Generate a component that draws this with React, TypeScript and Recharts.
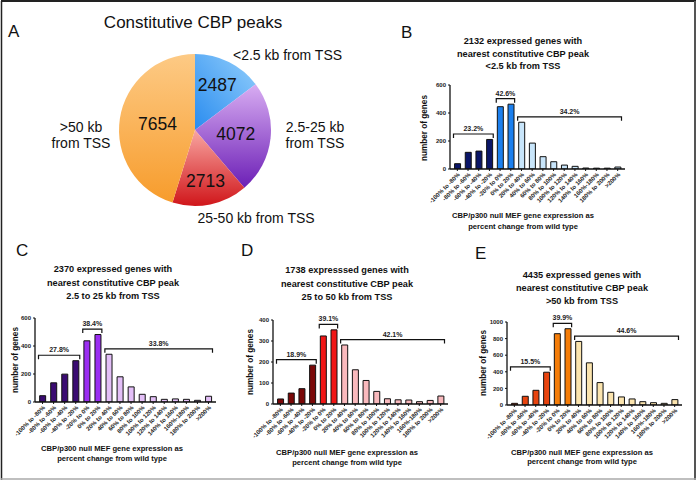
import React from 'react';
import { PieChart, Pie, Cell, BarChart, Bar, XAxis, YAxis, ReferenceArea } from 'recharts';

// ---------- data ----------
const pieNames = ['<2.5 kb from TSS', '2.5-25 kb from TSS', '25-50 kb from TSS', '>50 kb from TSS'];
const pieValues = [2487, 4072, 2713, 7654];

const bins = [
  '-100% to -80%', '-80% to -60%', '-60% to -40%', '-40% to -20%', '-20% to 0%', '0% to 20%',
  '20% to 40%', '40% to 60%', '60% to 80%', '80% to 100%', '100% to 120%', '120% to 140%',
  '140% to 160%', '160%-180%', '180% to 200%', '>200%',
];

const valuesB = [38, 119, 128, 211, 445, 463, 334, 185, 88, 52, 28, 19, 7, 6, 6, 14];
const valuesC = [45, 137, 199, 295, 437, 482, 341, 180, 108, 55, 38, 19, 22, 19, 12, 41];
const valuesD = [24, 52, 73, 185, 324, 353, 281, 163, 112, 60, 25, 20, 19, 11, 17, 38];
const valuesE = [20, 105, 177, 395, 859, 919, 766, 508, 270, 153, 97, 73, 40, 28, 20, 65];

const groupRanges = [[0, 3], [4, 5], [6, 15]];
const groupLabelsB = ['23.2%', '42.6%', '34.2%'];
const groupLabelsC = ['27.8%', '38.4%', '33.8%'];
const groupLabelsD = ['18.9%', '39.1%', '42.1%'];
const groupLabelsE = ['15.5%', '39.9%', '44.6%'];

const ticksB = [0, 200, 400, 600];
const ticksC = [0, 200, 400, 600];
const ticksD = [0, 100, 200, 300, 400];
const ticksE = [0, 200, 400, 600, 800, 1000];

const titleB = ['2132 expressed genes with', 'nearest constitutive CBP peak', '<2.5 kb from TSS'];
const titleC = ['2370 expressed genes with', 'nearest constitutive CBP peak', '2.5 to 25 kb from TSS'];
const titleD = ['1738 expresssed genes with', 'nearest constitutive CBP peak', '25 to 50 kb from TSS'];
const titleE = ['4435 expressed genes with', 'nearest constitutive CBP peak', '>50 kb from TSS'];
const xTitle = ['CBP/p300 null MEF gene expression as', 'percent change from wild type'];
const yTitle = 'number of genes';
const mainTitle = 'Constitutive CBP peaks';

// ---------- styles ----------
const FONT = '"Liberation Sans", Arial, Helvetica, sans-serif';
const pieGrad = [
  ['#93cffc', '#2a8cef'],
  ['#d8adf2', '#6c1fb6'],
  ['#f8a6a2', '#d0161a'],
  ['#fdca85', '#f79c2c'],
];
const colorsB = ['#0b1668', '#1c80ee', '#c8e5fa'];
const colorsC = ['#3a0b72', '#9b2ef2', '#e3bff7'];
const colorsD = ['#7a0808', '#f01616', '#f9b9bd'];
const colorsE = ['#e8440f', '#f57d08', '#fbe4ae'];

type HistProps = {
  values: number[];
  labels: string[];
  colors: string[];
  ticks: number[];
  plotX: number;
  plotY: number;
  plotW: number;
  plotH: number;
};

const WY = 22;
const TOP = 24;
const RIGHT = 6;
const HX = 40;

function Histogram({ values, labels, colors, ticks, plotX, plotY, plotW, plotH }: HistProps) {
  const yMax = ticks[ticks.length - 1];
  const data = bins.map((b, i) => ({ bin: b, value: values[i] }));
  const groupOf = (i: number) => groupRanges.findIndex(([a, b]) => i >= a && i <= b);
  const tickDepth = (4 / plotH) * yMax;
  const lift = yMax * 0.065;
  return (
    <div style={{ position: 'absolute', left: plotX - WY, top: plotY - TOP }}>
      <BarChart
        width={WY + plotW + RIGHT}
        height={TOP + plotH + HX}
        data={data}
        margin={{ top: TOP, right: RIGHT, left: 0, bottom: 0 }}
        barCategoryGap="24%"
      >
        <XAxis
          dataKey="bin"
          interval={0}
          height={HX}
          padding={{ left: 2, right: 2 }}
          axisLine={{ stroke: '#111', strokeWidth: 1.3 }}
          tickLine={{ stroke: '#111' }}
          tickSize={2}
          angle={-45}
          textAnchor="end"
          tick={{ fontSize: 6, fontWeight: 'bold', fill: '#222', fontFamily: FONT, dy: -1 }}
        />
        <YAxis
          width={WY}
          domain={[0, yMax]}
          ticks={ticks}
          interval={0}
          allowDataOverflow
          axisLine={{ stroke: '#111', strokeWidth: 1.3 }}
          tickLine={{ stroke: '#111' }}
          tickSize={2}
          tick={{ fontSize: 6, fontWeight: 'bold', fill: '#222', fontFamily: FONT }}
        />
        <Bar dataKey="value" stroke="#111" strokeWidth={1} isAnimationActive={false}>
          {data.map((d, i) => (
            <Cell key={d.bin} fill={colors[groupOf(i)]} />
          ))}
        </Bar>
        {groupRanges.map(([a, b], gi) => {
          const level = Math.max(...values.slice(a, b + 1)) + lift;
          const label = labels[gi];
          return (
            <ReferenceArea
              key={label}
              x1={bins[a]}
              x2={bins[b]}
              y1={level - tickDepth}
              y2={level}
              ifOverflow="visible"
              shape={(p: any) => {
                const x1 = p.x + 1.5;
                const x2 = p.x + p.width - 1.5;
                const yTop = p.y;
                const yBot = p.y + p.height;
                return (
                  <g>
                    <path
                      d={`M${x1},${yBot} L${x1},${yTop} L${x2},${yTop} L${x2},${yBot}`}
                      stroke="#111"
                      strokeWidth={1.2}
                      fill="none"
                    />
                    <text
                      x={(x1 + x2) / 2}
                      y={yTop - 3}
                      textAnchor="middle"
                      fontSize={7}
                      fontWeight="bold"
                      fill="#222"
                      fontFamily={FONT}
                    >
                      {label}
                    </text>
                  </g>
                );
              }}
            />
          );
        })}
      </BarChart>
    </div>
  );
}

const labelRadius = [0.66, 0.54, 0.68, 0.5];
const RAD = Math.PI / 180;

function PieLabel(props: any) {
  const { cx, cy, midAngle, outerRadius, index, value } = props;
  const r = outerRadius * labelRadius[index];
  const x = cx + r * Math.cos(-midAngle * RAD);
  const y = cy + r * Math.sin(-midAngle * RAD);
  return (
    <text x={x} y={y} dy={6} textAnchor="middle" fontSize={17.5} fill="#111" fontFamily={FONT}>
      {value}
    </text>
  );
}

function TitleBlock({ lines, cx, ys, size, bold }: { lines: string[]; cx: number; ys: number[]; size: number; bold?: boolean }) {
  return (
    <>
      {lines.map((l, i) => (
        <text
          key={i}
          x={cx}
          y={ys[i]}
          textAnchor="middle"
          fontSize={size}
          fontWeight={bold ? 'bold' : 'normal'}
          fill="#111"
          fontFamily={FONT}
        >
          {l}
        </text>
      ))}
    </>
  );
}

function YTitle({ x, y }: { x: number; y: number }) {
  return (
    <text
      x={x}
      y={y}
      transform={`rotate(-90 ${x} ${y})`}
      textAnchor="middle"
      dy={3}
      fontSize={8.2}
      fontWeight="bold"
      fill="#111"
      fontFamily={FONT}
    >
      {yTitle}
    </text>
  );
}

export default function App() {
  const pieData = pieNames.map((n, i) => ({ name: n, value: pieValues[i] }));
  const letter = (t: string, x: number, y: number) => (
    <text x={x} y={y} fontSize={17} fill="#111" fontFamily={FONT}>
      {t}
    </text>
  );
  return (
    <div style={{ position: 'absolute', left: 0, top: 0, width: 697, height: 481, background: '#fff', overflow: 'hidden' }}>
      <div style={{ position: 'absolute', left: 0, top: 0 }}>
        <PieChart width={400} height={240} margin={{ top: 0, right: 0, bottom: 0, left: 0 }}>
          <defs>
            {pieGrad.map((g, i) => (
              <linearGradient key={i} id={`pg${i}`} x1={i === 0 ? 1 : 0.5} y1={0} x2={i === 0 ? 0 : 0.5} y2={1}>
                <stop offset="0%" stopColor={g[0]} />
                <stop offset="100%" stopColor={g[1]} />
              </linearGradient>
            ))}
          </defs>
          <Pie
            data={pieData}
            dataKey="value"
            nameKey="name"
            cx={195}
            cy={130}
            outerRadius={76}
            startAngle={90}
            endAngle={-270}
            stroke="none"
            label={PieLabel}
            labelLine={false}
            isAnimationActive={false}
          >
            {pieData.map((d, i) => (
              <Cell key={d.name} fill={`url(#pg${i})`} />
            ))}
          </Pie>
        </PieChart>
      </div>

      <Histogram values={valuesB} labels={groupLabelsB} colors={colorsB} ticks={ticksB} plotX={450} plotY={85} plotW={175} plotH={84} />
      <Histogram values={valuesC} labels={groupLabelsC} colors={colorsC} ticks={ticksC} plotX={35} plotY={318} plotW={181} plotH={84} />
      <Histogram values={valuesD} labels={groupLabelsD} colors={colorsD} ticks={ticksD} plotX={273} plotY={320} plotW={175} plotH={84} />
      <Histogram values={valuesE} labels={groupLabelsE} colors={colorsE} ticks={ticksE} plotX={507} plotY={322} plotW={175} plotH={83} />

      <svg width={697} height={481} style={{ position: 'absolute', left: 0, top: 0, pointerEvents: 'none' }}>
        <line x1={1} y1={1} x2={696} y2={1} stroke="#222" strokeWidth={2} />
        <line x1={1.5} y1={1} x2={1.5} y2={480} stroke="#222" strokeWidth={1.5} />
        <line x1={695} y1={1} x2={695} y2={480} stroke="#555" strokeWidth={2} />
        <line x1={1} y1={479} x2={696} y2={479} stroke="#aaa" strokeWidth={1.5} />

        {letter('A', 8, 37)}
        {letter('B', 401, 38)}
        {letter('C', 16, 256)}
        {letter('D', 241, 256)}
        {letter('E', 475, 259)}

        <text x={193} y={28} textAnchor="middle" fontSize={17} fill="#111" fontFamily={FONT}>
          {mainTitle}
        </text>
        <text x={233} y={60} fontSize={14} fill="#111" fontFamily={FONT}>{pieNames[0]}</text>
        <TitleBlock lines={['2.5-25 kb', 'from TSS']} cx={315} ys={[132, 148]} size={14} />
        <text x={256} y={223} textAnchor="middle" fontSize={14} fill="#111" fontFamily={FONT}>{pieNames[2]}</text>
        <TitleBlock lines={['>50 kb', 'from TSS']} cx={81} ys={[132, 148]} size={14} />

        <TitleBlock lines={titleB} cx={523} ys={[44, 57, 69]} size={9.2} bold />
        <TitleBlock lines={titleC} cx={113} ys={[272, 286, 299]} size={9.2} bold />
        <TitleBlock lines={titleD} cx={347} ys={[273, 287, 300]} size={9.2} bold />
        <TitleBlock lines={titleE} cx={582} ys={[278, 291, 304]} size={9.2} bold />

        <TitleBlock lines={xTitle} cx={523} ys={[218, 229]} size={7.6} bold />
        <TitleBlock lines={xTitle} cx={112} ys={[451, 461]} size={7.6} bold />
        <TitleBlock lines={xTitle} cx={347} ys={[455, 465]} size={7.6} bold />
        <TitleBlock lines={xTitle} cx={582} ys={[455, 464]} size={7.6} bold />

        <YTitle x={424} y={128} />
        <YTitle x={15} y={360} />
        <YTitle x={250} y={362} />
        <YTitle x={483} y={363} />
      </svg>
    </div>
  );
}
